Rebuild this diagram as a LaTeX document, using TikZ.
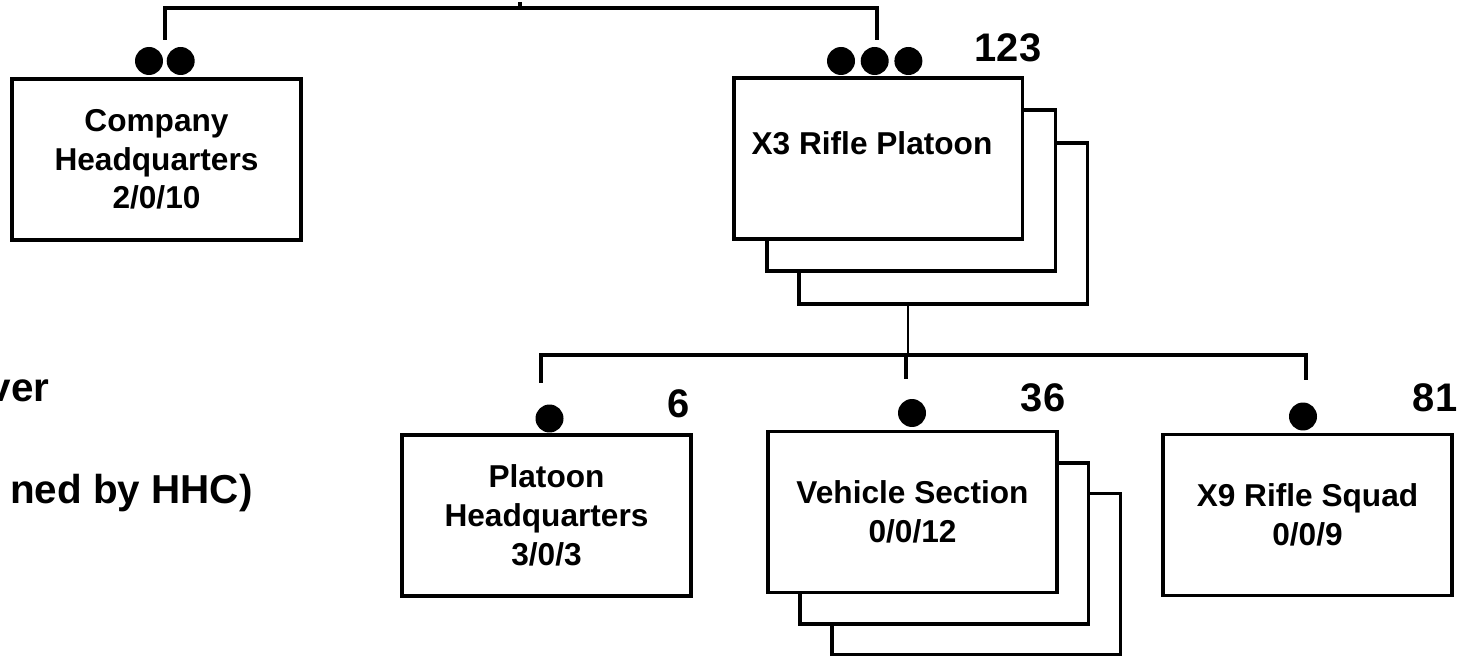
\documentclass[tikz,border=0pt]{standalone}
\usepackage{fontspec}
\setmainfont{Liberation Sans}
\usetikzlibrary{positioning}

\begin{document}
\begin{tikzpicture}
[x=0.02cm, y=-0.02cm, font=\bfseries\fontsize{18}{22}\selectfont]
\tikzstyle{unit}=[rectangle, draw, line width=2.25pt, fill=white, minimum width=5.78cm, minimum height=3.22cm, align=center, inner sep=0pt]
\tikzstyle{dot}=[circle, fill=black, inner sep=0pt, minimum size=0.56cm]
\tikzstyle{strength}=[anchor=base, font=\bfseries\fontsize{22.7}{26}\selectfont]
\tikzstyle{note}=[anchor=base east, inner sep=0pt, font=\bfseries\fontsize{23}{26}\selectfont]
\tikzstyle{tie}=[line width=2.1pt]
\useasboundingbox (0,0) rectangle (1468,658);

% company headquarters
\node[dot]	(cohqa)	at (149,61)	{};
\node[dot]	(cohqb)	[right=0.06cm of cohqa]	{};
\node[unit]	(cohq)	at (156.5,159.5)	{Company\\Headquarters\\2/0/10};

% rifle platoons (x3)
\node[dot]	(plta)	at (841,61)	{};
\node[dot]	(pltb)	[right=0.1cm of plta]	{};
\node[dot]	(pltc)	[right=0.1cm of pltb]	{};
\node[unit]	(plt3)	at (943,223.5)	{};
\node[unit]	(plt2)	at (911,190.5)	{};
\node[unit]	(plt1)	at (878,158.5)	{};
\node		(pltname)	at (872,143)	{X3 Rifle Platoon};
\node[strength]	(pltstr)	at (1008,62)	{123};

% platoon headquarters
\node[dot]	(hqdot)	at (549.5,418.5)	{};
\node[unit]	(plthq)	at (546.5,515.5)	{Platoon\\Headquarters\\3/0/3};
\node[strength]	(plthqstr)	at (679,418)	{6};

% vehicle section (x3)
\node[dot]	(vehdot)	at (912,413)	{};
\node[unit]	(veh3)	at (976,574)	{};
\node[unit]	(veh2)	at (944,543.5)	{};
\node[unit]	(veh1)	at (912.5,512)	{Vehicle Section\\0/0/12};
\node[strength]	(vehstr)	at (1043,412)	{36};

% rifle squads (x9)
\node[dot]	(sqddot)	at (1303,416.5)	{};
\node[unit]	(sqd)	at (1307.5,515)	{X9 Rifle Squad\\0/0/9};
\node[strength]	(sqdstr)	at (1435,412)	{81};

% cut-off notes
\node[note]	(driver)	at (50,402)	{ver};
\node[note]	(attach)	at (253,503)	{ned by HHC)};

% ties
\coordinate (top) at (520,8);
\coordinate (up) at (520,2);
\coordinate (cohqtie) at (165,40);
\coordinate (plttie) at (877,40);
\draw[tie] (cohqtie) |- (top) -| (plttie);
\draw[tie] (top) -- (up);

\coordinate (bus) at (908,355);
\coordinate (hqdrop) at (541,383);
\coordinate (vehdrop) at (906,379);
\coordinate (sqddrop) at (1306,380);
\draw[line width=0.8pt] (plt3.south -| bus) -- (bus);
\draw[tie] (hqdrop) |- (bus) -| (sqddrop);
\draw[tie] (bus -| vehdrop) -- (vehdrop);
\end{tikzpicture}
\end{document}
